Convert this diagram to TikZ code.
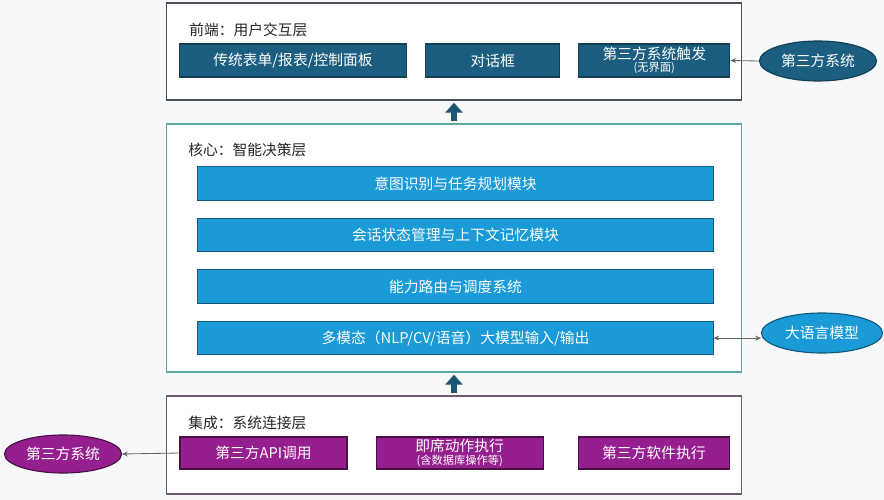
\documentclass[tikz,border=0pt]{standalone}
\usepackage{fontspec}
\setmainfont{Noto Sans CJK SC}
\usetikzlibrary{arrows.meta,shapes.geometric,positioning}

\definecolor{bgFill}{HTML}{F7F8FA}
\definecolor{feFill}{HTML}{1B5E80}
\definecolor{feLine}{HTML}{123F56}
\definecolor{coFill}{HTML}{1A9AD7}
\definecolor{coLine}{HTML}{14587A}
\definecolor{inFill}{HTML}{951F8E}
\definecolor{inLine}{HTML}{4A1046}
\definecolor{feFrame}{HTML}{4A4F55}
\definecolor{coFrame}{HTML}{5FA8A0}
\definecolor{inFrame}{HTML}{6E5A6E}
\definecolor{upFill}{HTML}{1D5673}

\newcommand{\subsize}{\fontsize{8}{9}\selectfont}

\begin{document}
\begin{tikzpicture}[x=0.025cm,y=-0.025cm,
    every node/.style={font=\fontsize{10.5}{12}\selectfont},
    layer/.style={draw,line width=0.8pt,fill=white,inner sep=0pt,minimum width=14.35cm},
    box/.style={draw,line width=0.8pt,text=white,inner sep=0pt,align=center},
    feBox/.style={box,fill=feFill,draw=feLine,minimum height=0.825cm},
    coBox/.style={box,fill=coFill,draw=coLine,minimum width=12.875cm,minimum height=0.84cm},
    inBox/.style={box,fill=inFill,draw=inLine,minimum height=0.8cm},
    ext/.style={ellipse,draw,line width=0.8pt,text=white,inner sep=0pt,minimum height=1cm},
    title/.style={anchor=west,inner sep=0pt,text=black!85},
    link/.style={draw=black!60,line width=0.6pt},
    tip/.style={-{Stealth[length=4pt,width=3.5pt]}},
    upArrow/.style={draw=upFill,line width=4.5pt,-{Triangle[width=12pt,length=7pt]},
        shorten <=1.5pt,shorten >=1.5pt}]

    \fill[bgFill] (0,0) rectangle (884,500);
    \useasboundingbox (0,0) rectangle (884,500);

    % layers
    \node[layer,draw=feFrame,minimum height=2.425cm] (fe) at (454,51.5) {};
    \node[layer,draw=coFrame,minimum height=6.2cm]   (co) at (454,248)  {};
    \node[layer,draw=inFrame,minimum height=2.45cm]  (in) at (454,445)  {};

    \node[title] (fe_t) at (189,30)  {前端：用户交互层};
    \node[title] (co_t) at (188,150) {核心：智能决策层};
    \node[title] (in_t) at (188,423) {集成：系统连接层};

    % front end
    \node[feBox,minimum width=5.675cm] (fe_1) at (293,60.5) {传统表单/报表/控制面板};
    \node[feBox,minimum width=3.35cm]  (fe_2) [right=0.45cm of fe_1] {对话框};
    \node[feBox,minimum width=3.775cm] (fe_3) [right=0.45cm of fe_2]
        {第三方系统触发\\[-3pt]{\subsize (无界面)}};

    % core
    \node[coBox] (co_1) at (455.5,183.5) {意图识别与任务规划模块};
    \node[coBox] (co_2) [below=0.42cm of co_1] {会话状态管理与上下文记忆模块};
    \node[coBox] (co_3) [below=0.42cm of co_2] {能力路由与调度系统};
    \node[coBox] (co_4) [below=0.42cm of co_3] {多模态（NLP/CV/语音）大模型输入/输出};

    % integration
    \node[inBox,minimum width=4.175cm] (in_1) at (263.5,453) {第三方API调用};
    \node[inBox,minimum width=4.175cm] (in_2) [right=0.7cm of in_1]
        {即席动作执行\\[-3pt]{\subsize (含数据库操作等)}};
    \node[inBox,minimum width=3.775cm] (in_3) [right=0.85cm of in_2] {第三方软件执行};

    % outside systems
    \node[ext,fill=feFill,draw=feLine,minimum width=2.925cm] (ext_fe)  at (818,61)  {第三方系统};
    \node[ext,fill=coFill,draw=coLine,minimum width=3.025cm] (ext_llm) at (822,333) {大语言模型};
    \node[ext,fill=inFill,draw=inLine,minimum width=2.925cm,minimum height=0.95cm] (ext_in) at (63,454) {第三方系统};

    \path[link]
        (ext_fe.west) edge[tip] (fe_3.east)
        (co_4.east)   edge[{Stealth[length=4pt,width=3.5pt]}-{Stealth[length=4pt,width=3.5pt]}] (co_4.east -| ext_llm.west)
        (in_1.west)   edge[tip] (ext_in.east);

    \draw[upArrow] (co.north) -- (fe.south);
    \draw[upArrow] (in.north) -- (co.south);
\end{tikzpicture}
\end{document}
